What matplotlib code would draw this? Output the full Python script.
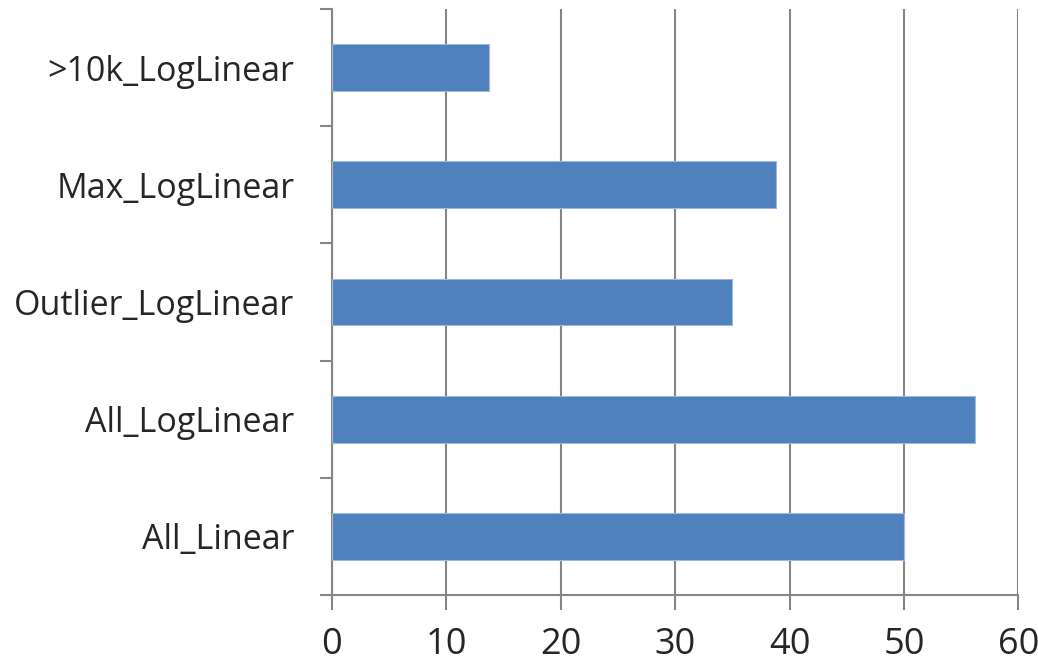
import matplotlib
matplotlib.use('Agg')
import matplotlib.pyplot as plt
import numpy as np

plt.rcParams['font.family'] = ['Open Sans', 'DejaVu Sans']

# model names, bottom to top
models = ['All_Linear', 'All_LogLinear', 'Outlier_LogLinear', 'Max_LogLinear', '>10k_LogLinear']
scores = [50.0, 56.2, 35.0, 38.8, 13.7]
xticks = [0, 10, 20, 30, 40, 50, 60]

grey = '#868686'

fig = plt.figure(figsize=(10.38, 6.65), dpi=100)
ax = fig.add_axes([0.3198, 0.1053, 0.6612, 0.8812])

y = np.arange(len(models))
ax.barh(y, scores, height=0.4, color='#4F81BD', edgecolor='#9DB9DD', linewidth=0.8, zorder=3)

ax.set_xlim(0, 60)
ax.set_ylim(-0.5, len(models) - 0.5)
ax.set_xticks(xticks)
ax.set_xticklabels([str(t) for t in xticks], fontsize=26, color='#262626')
ax.grid(axis='x', color=grey, linewidth=1.5, zorder=1)

# category ticks sit between the bars
ax.set_yticks(np.arange(-0.5, len(models), 1.0))
ax.set_yticklabels([])
ax.set_yticks(y, minor=True)
ax.set_yticklabels(models, minor=True, fontsize=24.5, color='#262626')
ax.tick_params(axis='y', which='minor', length=0, pad=27)
ax.tick_params(axis='y', which='major', length=9, width=1.5, color=grey)
ax.tick_params(axis='x', length=11, width=1.5, color=grey, pad=12)

for side in ['top', 'right']:
    ax.spines[side].set_visible(False)
for side in ['left', 'bottom']:
    ax.spines[side].set_color(grey)
    ax.spines[side].set_linewidth(1.5)

fig.savefig('out.png', dpi=100)
